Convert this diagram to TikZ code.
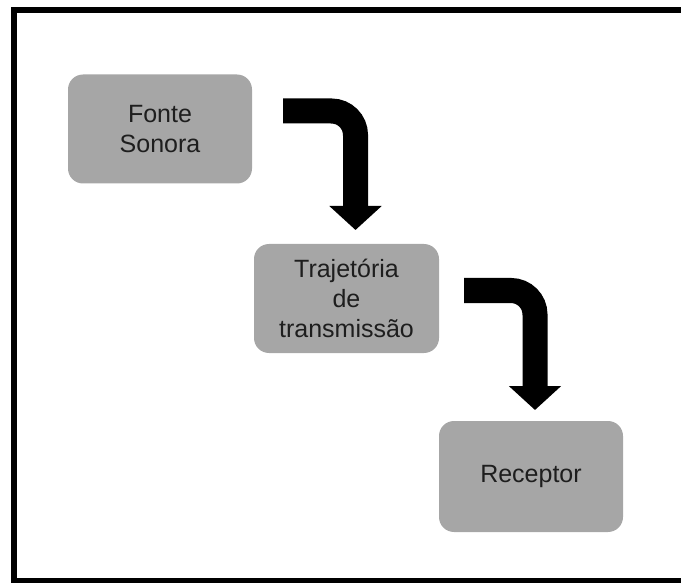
\documentclass[tikz,border=0pt]{standalone}
\usepackage{fontspec}
\setmainfont{Liberation Sans}
\usetikzlibrary{arrows.meta}
\definecolor{boxgray}{HTML}{A6A6A6}
\definecolor{txt}{HTML}{1E1E1E}
\begin{document}
\begin{tikzpicture}[x=1pt,y=-1pt,
  box/.style={draw=none,fill=boxgray,rounded corners=15pt,minimum width=184pt,minimum height=109pt,inner sep=0pt,
    font=\fontsize{25}{30}\selectfont,text=txt,align=center},
  bigarrow/.style={draw=black,line width=25pt,rounded corners=24pt,-{Triangle[width=51pt,length=24pt]}}]
\useasboundingbox (0,0) rectangle (681,583);
\clip (0,0) rectangle (681,583);
\draw[line width=6pt] (14,10) rectangle (700,581);
\node[box] (b1) at (160,129) {Fonte\\Sonora};
\node[box,minimum width=185pt] (b2) at (346.5,298.5) {Trajetória\\de\\transmissão};
\node[box,minimum height=111pt] (b3) at (531,476.5) {Receptor};
\coordinate (a1s) at (283,111);
\coordinate (a1e) at (355.5,230);
\coordinate (a2s) at (464,290.5);
\coordinate (a2e) at (535,410);
\draw[bigarrow] (a1s) -| (a1e);
\draw[bigarrow] (a2s) -| (a2e);
\end{tikzpicture}
\end{document}
